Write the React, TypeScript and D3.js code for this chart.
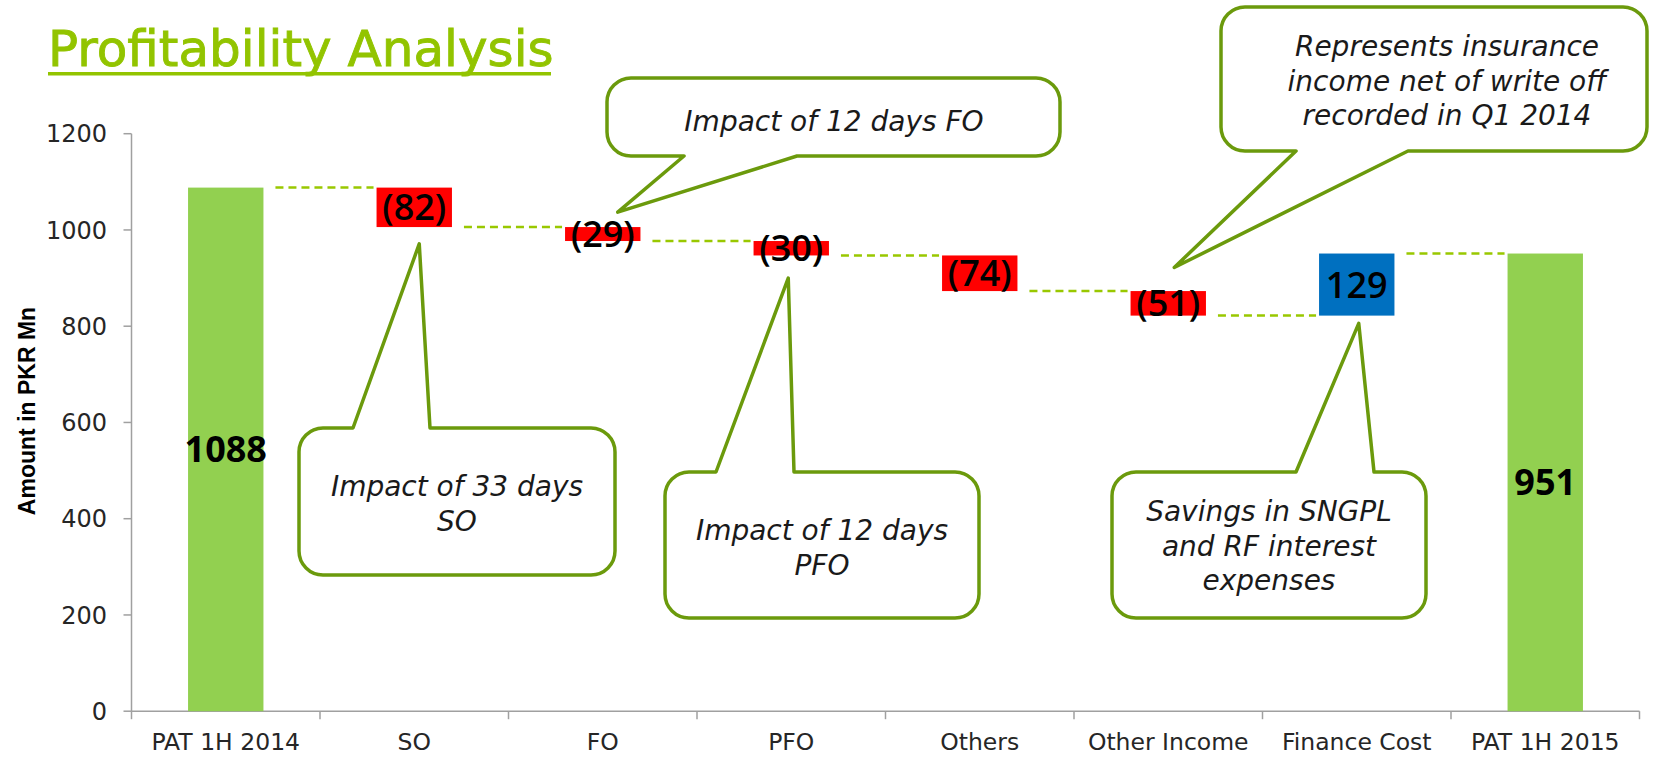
import React, { useEffect } from "react";
import * as d3 from "d3";

// ---- data ----
const categories = ["PAT 1H 2014", "SO", "FO", "PFO", "Others", "Other Income", "Finance Cost", "PAT 1H 2015"];
const amounts = [1088, -82, -29, -30, -74, -51, 129, 951];
const isTotal = [true, false, false, false, false, false, false, true];
const yTicks = [0, 200, 400, 600, 800, 1000, 1200];

const callouts = [
  { lines: ["Impact of 33 days", "SO"], anchorCat: "SO", anchorValue: 971, anchorDx: 5 },
  { lines: ["Impact of 12 days FO"], anchorCat: "FO", anchorValue: 1037, anchorDx: 15 },
  { lines: ["Impact of 12 days", "PFO"], anchorCat: "PFO", anchorValue: 900, anchorDx: -3 },
  { lines: ["Represents insurance", "income net of write off", "recorded in Q1 2014"], anchorCat: "Other Income", anchorValue: 922, anchorDx: 6 },
  { lines: ["Savings in SNGPL", "and RF interest", "expenses"], anchorCat: "Finance Cost", anchorValue: 806, anchorDx: 2 },
];

// layout of callout boxes (pixels)
const calloutBoxes = [
  { box: [299, 428, 615, 575], side: "top", base: [353, 430], tx: 457, ty: 496 },
  { box: [607, 78, 1060, 156], side: "bottom", base: [684, 797], tx: 834, ty: 131 },
  { box: [665, 472, 979, 618], side: "top", base: [716, 794], tx: 822, ty: 540 },
  { box: [1221, 7, 1647, 151], side: "bottom", base: [1296, 1408], tx: 1447, ty: 56 },
  { box: [1112, 472, 1426, 618], side: "top", base: [1296, 1374], tx: 1269, ty: 521 },
];

const W = 1677;
const H = 762;
const AXIS_X0 = 131.5;
const AXIS_X1 = 1639.5;
const Y0 = 711.2;
const Y1 = 133.7;

const GREEN = "#92D050";
const RED = "#FF0000";
const BLUE = "#0070C0";
const DASH = "#99C800";
const CALLOUT = "#6B9A0C";
const AXIS = "#A0A0A0";

function calloutPath(b: number[], side: string, base: number[], ax: number, ay: number, r: number) {
  const [x0, y0, x1, y1] = b;
  let p = `M${x0 + r},${y0}`;
  if (side === "top") p += `L${base[0]},${y0}L${ax},${ay}L${base[1]},${y0}`;
  p += `L${x1 - r},${y0}A${r},${r} 0 0 1 ${x1},${y0 + r}`;
  p += `L${x1},${y1 - r}A${r},${r} 0 0 1 ${x1 - r},${y1}`;
  if (side === "bottom") p += `L${base[1]},${y1}L${ax},${ay}L${base[0]},${y1}`;
  p += `L${x0 + r},${y1}A${r},${r} 0 0 1 ${x0},${y1 - r}`;
  p += `L${x0},${y0 + r}A${r},${r} 0 0 1 ${x0 + r},${y0}Z`;
  return p;
}

export default function App() {
  useEffect(() => {
    document.body.style.margin = "0";
  }, []);

  const x = d3.scaleBand<string>().domain(categories).range([AXIS_X0, AXIS_X1]).paddingInner(0.6).paddingOuter(0.3);
  const y = d3.scaleLinear().domain([0, 1200]).range([Y0, Y1]);
  const bw = x.bandwidth();
  const step = x.step();

  let running = 0;
  const steps = categories.map((c, i) => {
    let start: number, end: number;
    if (isTotal[i]) {
      start = 0;
      end = amounts[i];
    } else {
      start = running;
      end = running + amounts[i];
    }
    running = end;
    const color = isTotal[i] ? GREEN : amounts[i] < 0 ? RED : BLUE;
    const label = isTotal[i] ? `${amounts[i]}` : amounts[i] < 0 ? `(${Math.abs(amounts[i])})` : `${amounts[i]}`;
    return { c, i, start, end, color, label };
  });

  const boundaries = d3.range(categories.length + 1).map((k) => AXIS_X0 + k * step);

  return (
    <svg width={W} height={H} style={{ display: "block", position: "absolute", left: 0, top: 0, background: "#fff" }}>
      {/* Title */}
      <text x={48} y={66} fontFamily="DejaVu Sans" fontSize={50} fill="#92C400" stroke="#92C400" strokeWidth={0.9}>
        Profitability Analysis
      </text>
      <rect x={48} y={72} width={503} height={3.5} fill="#92C400" />

      {/* Y axis title */}
      <text
        transform={`translate(35,411) rotate(-90)`}
        textAnchor="middle"
        fontFamily="Liberation Sans, Arial, sans-serif"
        fontWeight="bold"
        fontSize={23}
        fill="#000"
      >
        Amount in PKR Mn
      </text>

      {/* Y axis */}
      <line x1={AXIS_X0} x2={AXIS_X0} y1={Y1} y2={Y0} stroke={AXIS} strokeWidth={1.5} />
      {yTicks.map((t) => (
        <g key={t}>
          <line x1={AXIS_X0 - 8} x2={AXIS_X0} y1={y(t)} y2={y(t)} stroke={AXIS} strokeWidth={1.5} />
          <text x={107} y={y(t)} dy="0.36em" textAnchor="end" fontFamily="DejaVu Sans" fontSize={24} fill="#262626">
            {t}
          </text>
        </g>
      ))}

      {/* X axis */}
      <line x1={AXIS_X0} x2={AXIS_X1} y1={Y0} y2={Y0} stroke={AXIS} strokeWidth={1.5} />
      {boundaries.map((bx, k) => (
        <line key={k} x1={bx} x2={bx} y1={Y0} y2={Y0 + 8} stroke={AXIS} strokeWidth={1.5} />
      ))}
      {categories.map((c) => (
        <text key={c} x={(x(c) as number) + bw / 2} y={750} textAnchor="middle" fontFamily="DejaVu Sans" fontSize={23.5} fill="#262626">
          {c}
        </text>
      ))}

      {/* connectors */}
      {steps.slice(0, -1).map((s, i) => {
        const next = categories[i + 1];
        const x1 = (x(s.c) as number) + bw + 12;
        const x2 = (x(next) as number) - 3;
        return (
          <line key={"d" + i} x1={x1} x2={x2} y1={y(s.end)} y2={y(s.end)} stroke={DASH} strokeWidth={2.5} strokeDasharray="8 5" />
        );
      })}

      {/* bars */}
      {steps.map((s) => (
        <rect
          key={s.c}
          x={x(s.c)}
          y={y(Math.max(s.start, s.end))}
          width={bw}
          height={Math.abs(y(s.start) - y(s.end))}
          fill={s.color}
        />
      ))}

      {/* labels */}
      {steps.map((s) => (
        <text
          key={"l" + s.c}
          x={(x(s.c) as number) + bw / 2}
          y={(y(s.start) + y(s.end)) / 2}
          dy="0.36em"
          textAnchor="middle"
          fontFamily="Open Sans"
          fontWeight={isTotal[s.i] ? 700 : 600}
          fontSize={36}
          fill="#000"
        >
          {s.label}
        </text>
      ))}

      {/* callouts */}
      {callouts.map((co, k) => {
        const lay = calloutBoxes[k];
        const ax = (x(co.anchorCat) as number) + bw / 2 + co.anchorDx;
        const ay = y(co.anchorValue);
        return (
          <g key={"c" + k}>
            <path d={calloutPath(lay.box, lay.side, lay.base, ax, ay, 24)} fill="#fff" stroke={CALLOUT} strokeWidth={3.5} strokeLinejoin="round" />
            {co.lines.map((ln, j) => (
              <text
                key={j}
                x={lay.tx}
                y={lay.ty + j * 34.5}
                textAnchor="middle"
                fontFamily="DejaVu Sans"
                fontStyle="italic"
                fontSize={28}
                fill="#1a1a1a"
              >
                {ln}
              </text>
            ))}
          </g>
        );
      })}
    </svg>
  );
}
